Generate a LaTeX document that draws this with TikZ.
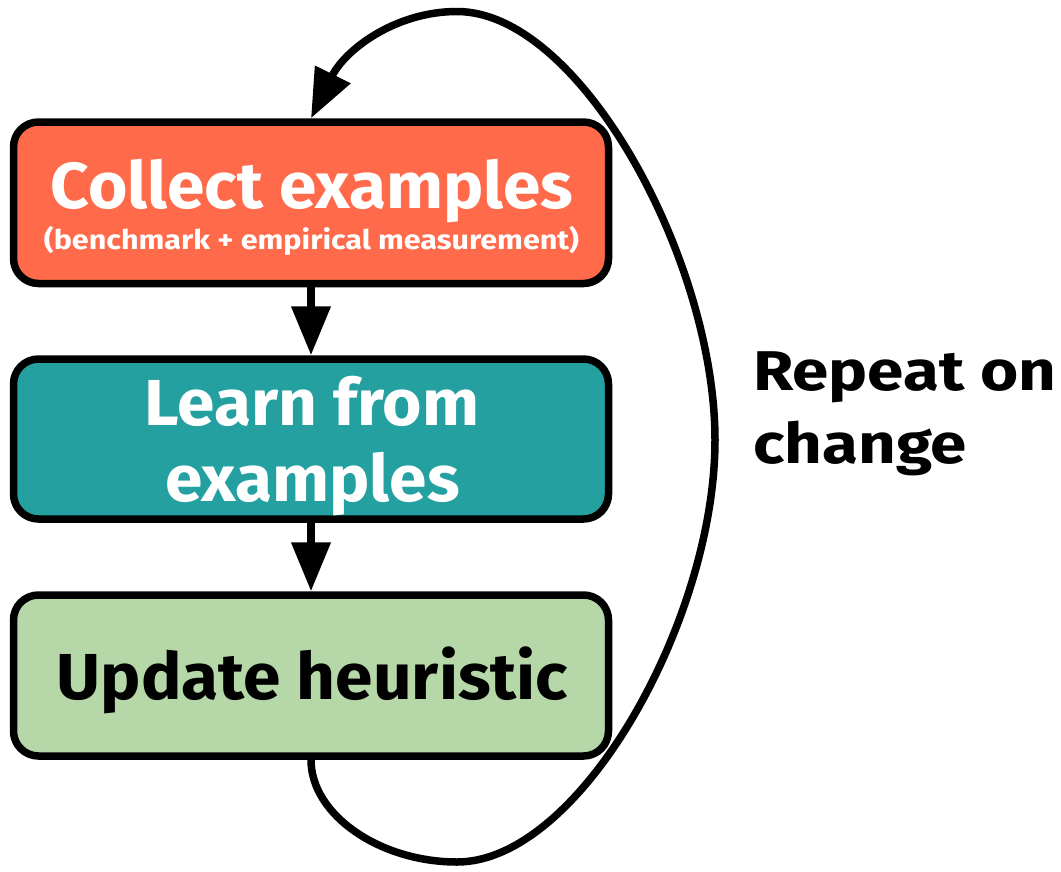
\documentclass[tikz,border=0pt]{standalone}
\usepackage{fontspec}
\setmainfont{Fira Sans}
\newfontfamily\stagefont{Fira Sans}[FakeStretch=1.04]
\newfontfamily\notefont{Fira Sans}[FakeStretch=1.13]
\newfontfamily\loopfont{Fira Sans}[FakeStretch=1.17]
\usetikzlibrary{arrows.meta}
\definecolor{collectfill}{RGB}{255,106,74}
\definecolor{learnfill}{RGB}{37,160,161}
\definecolor{updatefill}{RGB}{182,215,168}
\begin{document}
\begin{tikzpicture}[x=1pt,y=-1pt,
  stage/.style={draw=black, line width=7.5pt, rounded corners=25pt,
    minimum width=595pt, inner sep=0pt},
  flow/.style={line width=7.5pt, -{Triangle[length=49pt,width=38pt]}},
  bigtext/.style={inner sep=0pt, font=\stagefont\bfseries\fontsize{65}{76}\selectfont},
  subtext/.style={inner sep=0pt, font=\notefont\bfseries\fontsize{27}{32}\selectfont},
  sidetext/.style={inner sep=0pt, font=\loopfont\bfseries\fontsize{56}{66}\selectfont}]
\useasboundingbox (0,0) rectangle (1061,871);

% the three stages
\node[stage, fill=collectfill, minimum height=161.5pt] (collect) at (311,202.75) {};
\node[stage, fill=learnfill, minimum height=160pt] (learn) at (311,439) {};
\node[stage, fill=updatefill, minimum height=161pt] (update) at (311,675.5) {};

% stage labels
\node[bigtext, white, anchor=base] (collectT) at (312,208) {Collect examples};
\node[subtext, white, anchor=base] (collectS) at (311.5,249.5) {(benchmark + empirical measurement)};
\node[bigtext, white, anchor=base] (learnT1) at (312,425) {Learn from};
\node[bigtext, white, anchor=base] (learnT2) at (312.5,501) {examples};
\node[bigtext, black, anchor=base] (updateT) at (312.5,699) {Update heuristic};

% loop label
\node[sidetext, anchor=base west] (repeatT1) at (753,390) {Repeat on};
\node[sidetext, anchor=base west] (repeatT2) at (753,463) {change};

% forward steps
\draw[flow] (collect) -- (learn);
\draw[flow] (learn) -- (update);

% feedback loop back to the first stage
\draw[flow] (update.south)
  .. controls (311,815) and (380,862) .. (457,862)
  .. controls (580,862) and (715,620) .. (715,440)
  .. controls (715,260) and (580,11.5) .. (457,11.5)
  .. controls (395,11.5) and (345,50) .. (collect.north);
\end{tikzpicture}
\end{document}
